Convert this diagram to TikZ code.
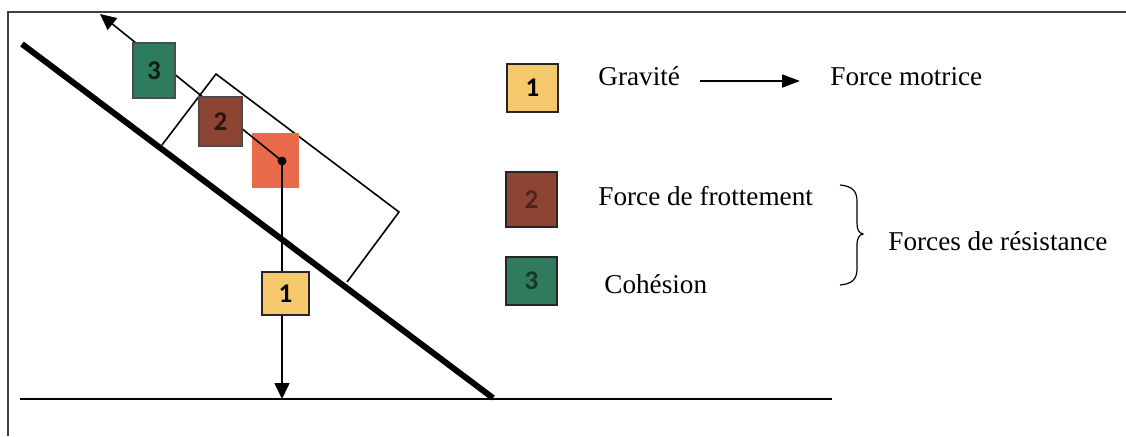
\documentclass[tikz,border=0pt]{standalone}
\usepackage{fontspec}
\setmainfont{Liberation Serif}
\newfontfamily\digitfont{Carlito}
\usetikzlibrary{arrows.meta}

\definecolor{gravcol}{HTML}{F5C86C}
\definecolor{frotcol}{HTML}{8C4433}
\definecolor{cohcol}{HTML}{2F7B5E}
\definecolor{masscol}{HTML}{E96A4B}

\begin{document}
\begin{tikzpicture}[x=0.5pt,y=-0.5pt,
  every node/.style={font=\fontsize{13.6}{16}\selectfont},
  force/.style={draw=black!85,line width=0.6pt,inner sep=0pt,
    font=\digitfont\bfseries\fontsize{13.5}{15}\selectfont},
  legend/.style={anchor=base west,inner sep=0pt},
  rod/.style={line width=0.8pt},
  tip/.style={-{Triangle[length=8pt,width=7.5pt]}}]
  \useasboundingbox (0,0) rectangle (1126,436);

  % frame and ground
  \draw[line width=0.7pt,black!75] (8,436) -- (8,12) -- (1126,12);
  \draw[rod] (20,399) -- (832,399);
  \draw[line width=3pt] (22,44) -- (493,398);

  % block on the slope
  \draw[rod] (162,145) -- (216,74) -- (399,212) -- (347,282);
  \node[fill=masscol,inner sep=0pt,minimum width=23.5pt,minimum height=27.5pt] (mass) at (275.5,160.5) {};

  \coordinate (g) at (282,161);
  \coordinate (ctip) at (100,14);
  \coordinate (foot) at (282,399);
  \draw[rod,tip] (g) -- (ctip);
  \draw[rod,tip] (g) -- (foot);
  \fill (g) circle (2.2pt);

  \node[force,fill=cohcol,draw=black!70,text=black!75!cohcol,minimum width=21pt,minimum height=27.5pt] (c3) at (154,70.5) {3};
  \node[force,fill=frotcol,draw=black!70,text=black!70!frotcol,minimum width=21.5pt,minimum height=24.5pt] (c2) at (220.5,121.5) {2};
  \node[force,fill=gravcol,minimum width=23.5pt,minimum height=21.5pt] (c1) at (285.5,293.5) {1};

  % legend
  \node[force,fill=gravcol,minimum width=25.5pt,minimum height=24pt] (l1) at (532.5,88) {1};
  \node[force,fill=frotcol,text=black!45!frotcol,minimum width=25.5pt,minimum height=27.5pt] (l2) at (531.5,199.5) {2};
  \node[force,fill=cohcol,text=black!55!cohcol,minimum width=25.5pt,minimum height=24pt] (l3) at (531.5,281) {3};

  \node[legend] (grav) at (598,85) {Gravité};
  \node[legend] (motr) at (830,85) {Force motrice};
  \draw[line width=1pt,-{Triangle[length=9pt,width=6.5pt]}] ([shift={(10pt,2pt)}]grav.base east) -- ([shift={(-15pt,2pt)}]motr.base west);

  \node[legend] (frot) at (598,205) {Force de frottement};
  \node[legend] (coh) at (604,293) {Cohésion};
  \node[legend] (resis) at (888,250) {Forces de résistance};

  \draw[line width=0.6pt] (840,185) .. controls (852,186) and (857,191) .. (857,201)
    -- (857,223) .. controls (857,230) and (859,233) .. (863,234)
    .. controls (859,235) and (857,238) .. (857,246)
    -- (857,269) .. controls (857,279) and (852,284) .. (840,285);
\end{tikzpicture}
\end{document}
